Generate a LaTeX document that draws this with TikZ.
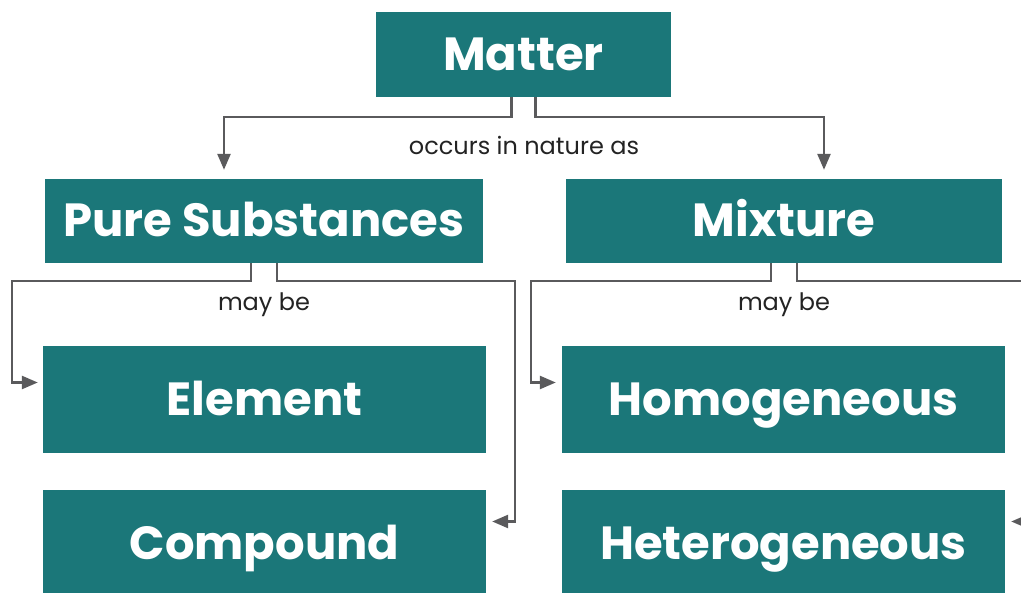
\documentclass[tikz,border=0pt]{standalone}
\usepackage{fontspec}
\setmainfont{Poppins}
\usetikzlibrary{arrows.meta}
\definecolor{teal1}{RGB}{27,119,121}
\definecolor{conngray}{RGB}{90,90,92}
\definecolor{labgray}{RGB}{35,35,35}
\tikzset{
  box/.style={fill=teal1, text=white, font=\bfseries\fontsize{46.5}{48}\selectfont, inner sep=0pt, anchor=center, text height=32pt, text depth=0pt},
  conn/.style={draw=conngray, line width=2.5pt, -{Triangle[length=16pt,width=13pt]}},
  lab/.style={text=labgray, font=\fontsize{24}{26}\selectfont, inner sep=0pt, text height=13pt, text depth=0pt},
}
\begin{document}
\begin{tikzpicture}[x=1pt,y=-1pt]
\clip (0,0) rectangle (1021,593);
\fill[white] (0,0) rectangle (1021,593);
\node[box, minimum width=295pt, minimum height=85pt] (matter) at (523.5,54.5) {Matter};
\node[box, minimum width=438pt, minimum height=84pt] (pure) at (264,221) {Pure Substances};
\node[box, minimum width=436pt, minimum height=84pt] (mixture) at (784,221) {Mixture};
\node[box, minimum width=443pt, minimum height=107pt] (element) at (264.5,399.5) {Element};
\node[box, minimum width=443pt, minimum height=107pt] (compound) at (264.5,543.5) {Compound};
\node[box, minimum width=443pt, minimum height=107pt] (homog) at (783.5,399.5) {Homogeneous};
\node[box, minimum width=443pt, minimum height=107pt] (hetero) at (783.5,543.5) {Heterogeneous};
\node[lab] (l1) at (524,148) {occurs in nature as};
\node[lab] (l2) at (264,304) {may be};
\node[lab] (l3) at (784,304) {may be};
\draw[conn] ([xshift=-12pt]matter.south) -- ++(0,20) -| ([xshift=-40pt,yshift=9pt]pure.north);
\draw[conn] ([xshift=12pt]matter.south) -- ++(0,20) -| ([xshift=40pt,yshift=9pt]mixture.north);
\draw[conn] ([xshift=-13pt]pure.south) -- ++(0,18) -- ++(-239,0) |- ([xshift=-5pt,yshift=17pt]element.west);
\draw[conn] ([xshift=13pt]pure.south) -- ++(0,18) -- ++(238,0) |- ([xshift=6pt,yshift=22pt]compound.east);
\draw[conn] ([xshift=-13pt]mixture.south) -- ++(0,18) -- ++(-240,0) |- ([xshift=-6pt,yshift=17pt]homog.west);
\draw[conn] ([xshift=13pt]mixture.south) -- ++(0,18) -- ++(240,0) |- ([xshift=6pt,yshift=22pt]hetero.east);
\end{tikzpicture}
\end{document}
